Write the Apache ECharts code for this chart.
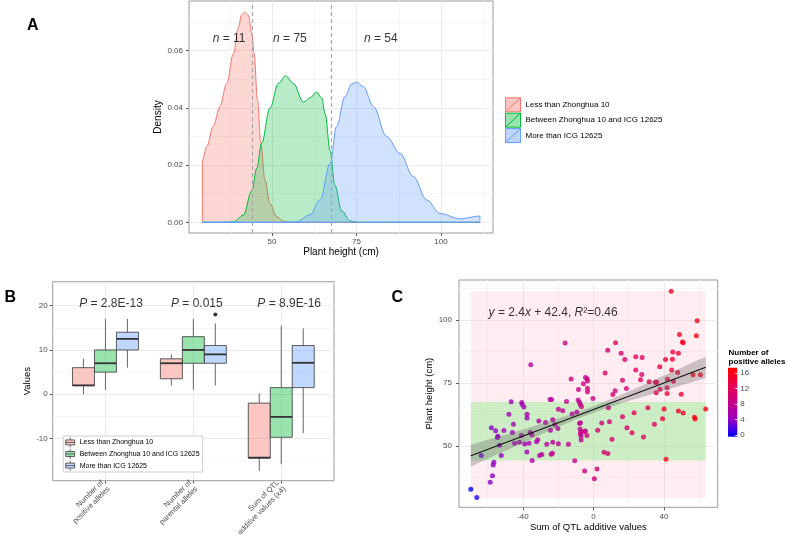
<!DOCTYPE html>
<html><head><meta charset="utf-8">
<script src="https://cdn.jsdelivr.net/npm/echarts@6/dist/echarts.min.js"></script>
<style>html,body{margin:0;padding:0;background:#fff}#c{width:787px;height:540px}</style>
</head><body><div id="c"></div>
<script>
// ================= DATA =================
const groupNames = ['Less than Zhonghua 10', 'Between Zhonghua 10 and ICG 12625', 'More than ICG 12625'];
const groupColors = ['#F8766D', '#00BA38', '#619CFF'];
const thresholds = [44.3, 67.5];          // Zhonghua 10 / ICG 12625 plant heights
const heightRange = [29.4, 111.5];

// Panel A : density of plant height
const densityLess = [[29.4,0],[29.4,0.0218],[30.7,0.0265],[32.6,0.0335],[34.6,0.0405],[36.6,0.0486],[38.6,0.0591],[40.0,0.0679],[41.0,0.0725],[41.8,0.0735],[43.0,0.0725],[44.0,0.0661],[44.7,0.0591],[45.7,0.0428],[46.7,0.0276],[47.9,0.0148],[49.4,0.0066],[51.4,0.002],[53.4,0.0003],[56,0],[111.5,0]];
const densityBetween = [[29.4,0],[36,0],[38.6,0.0002],[41.5,0.0025],[44.0,0.011],[45.5,0.019],[46.9,0.0276],[49.4,0.040],[51.9,0.0486],[54.0,0.0512],[56.3,0.0486],[59.3,0.042],[61.2,0.0435],[63.2,0.0455],[64.7,0.0435],[65.7,0.038],[67.2,0.025],[68.6,0.013],[70.6,0.004],[73.1,0.0005],[75.0,0],[111.5,0]];
const densityMore = [[29.4,0],[54,0],[57.3,0.0002],[61.2,0.0026],[64.2,0.0078],[67.2,0.0206],[69.1,0.0335],[71.6,0.044],[73.6,0.0484],[75.0,0.049],[77.0,0.0475],[80.0,0.0405],[83.9,0.030],[87.9,0.0241],[91.8,0.016],[95.8,0.0078],[99.7,0.0031],[105.6,0.0012],[111.5,0.0022],[111.5,0]];
const groupCounts = [11, 75, 54];
const countLabelX = [37.3, 55.3, 82.2];
const countLabelY = 0.0641;
const densTicksX = [50, 75, 100], densMinorX = [37.5, 62.5, 87.5, 112.5];
const densTicksY = [0, 0.02, 0.04, 0.06], densMinorY = [0.01, 0.03, 0.05, 0.07];

// Panel B : box plots  [min, q1, median, q3, max]
const boxCategories = ['Number of\npositive alleles', 'Number of\nparental alleles', 'Sum of QTL\nadditive values (x4)'];
const boxLess    = [[0,2,2,6,8],   [2,3.5,7,8,9],  [-17.3,-14.4,-14.3,-2,0.2]];
const boxBetween = [[1,5,7,10,17], [1,7,10,13,17], [-15.8,-9.7,-5.1,1.5,15.5]];
const boxMore    = [[6,10,12.5,14,17], [2,7,9,11,16], [-8.8,1.5,7.1,11,14.9]];
const boxOutliers = [[2, 2, 18]];   // [category (1-based), group index, value]
const pValues = ['2.8E-13', '0.015', '8.9E-16'];
const pLabelX = [1.063, 2.04, 3.09], pLabelY = 20.5;
const boxTicksY = [-10, 0, 10, 20], boxMinorY = [-15, -5, 5, 15, 25];

// Panel C : scatter [sum of QTL additive values, plant height, number of positive alleles]
const pointsC = [[-69.6,32.9,0],[-66.2,29.6,1],[-63.7,46.3,3],[-58.6,35.6,4],[-57.9,57.3,4],[-56.9,42.5,4],[-56.5,43.6,4],[-57.3,38.2,4],[-55.5,56.1,4],[-54.5,53.4,5],[-54.2,53.9,4],[-53.3,50.3,5],[-52.3,46.3,4],[-50.8,56.2,5],[-48.0,62.6,5],[-46.7,67.6,5],[-46.0,55.4,5],[-45.4,58.7,5],[-44.8,51.1,5],[-42.0,51.5,6],[-40.7,67.3,5],[-40.5,66.6,5],[-39.5,65.5,5],[-40.9,54.2,6],[-39.0,50.8,5],[-37.7,62.6,6],[-37.7,61.1,5],[-37.8,47.6,5],[-36.5,51.1,6],[-35.9,55.4,6],[-35.6,82.3,7],[-34.9,54.5,7],[-34.8,44.3,6],[-32.3,51.7,6],[-31.6,52.5,7],[-31.0,59.9,6],[-30.6,46.3,7],[-29.3,46.7,7],[-27.2,59.4,7],[-26.5,50.7,7],[-24.6,68.5,7],[-23.8,68.5,7],[-24.4,56.3,7],[-24.0,46.8,8],[-23.3,47.1,8],[-23.1,60.4,7],[-23.1,51.5,7],[-21.9,58.6,7],[-19.9,64.6,8],[-17.4,64.0,8],[-20.2,57.0,7],[-19.9,50.9,8],[-16.1,90.9,9],[-15.3,67.7,8],[-14.2,50.7,8],[-12.7,76.6,9],[-12.1,62.7,7],[-10.6,44.2,8],[-9.5,63.5,7],[-8.7,68.3,8],[-8.5,72.4,8],[-7.9,67.3,8],[-7.4,66.5,8],[-6.8,65.6,9],[-7.9,59.0,8],[-7.4,59.3,8],[-7.6,56.8,8],[-7.2,55.6,8],[-7.4,54.8,9],[-7.0,54.0,8],[-7.0,52.4,8],[-5.7,74.7,9],[-5.3,55.8,9],[-4.5,56.0,9],[-5.0,40.1,9],[-4.5,77.2,9],[-3.6,76.7,9],[-3.4,75.8,9],[-3.4,72.9,9],[-3.4,71.6,9],[-3.7,54.2,9],[-0.3,68.9,9],[0.5,37.0,10],[2.0,40.9,10],[2.4,56.3,10],[4.7,59.2,10],[6.0,47.5,10],[6.6,79.0,11],[8.1,88.0,10],[8.2,47.0,10],[8.5,65.2,9],[9.1,59.6,10],[10.5,52.7,10],[11.0,70.5,10],[12.3,72.0,10],[12.5,91.0,11],[15.7,86.8,11],[16.5,76.1,11],[16.5,61.6,11],[17.8,84.4,11],[18.7,72.8,10],[19.0,57.3,11],[23.1,63.2,12],[21.9,55.3,12],[24.0,85.4,12],[24.0,80.2,12],[26.7,76.3,12],[27.4,78.4,11],[27.6,85.1,12],[28.4,53.6,12],[30.9,65.2,12],[31.6,75.5,13],[34.6,58.7,12],[35.2,75.3,13],[35.6,71.2,13],[35.9,75.3,13],[37.6,81.5,14],[37.8,72.5,13],[39.2,60.8,14],[40.1,64.7,15],[40.9,84.4,14],[41.2,44.8,15],[41.8,70.9,14],[41.8,73.1,13],[42.0,76.5,14],[44.1,111.4,15],[44.4,80.2,14],[44.8,84.5,14],[45.0,87.3,14],[45.4,75.7,13],[47.8,79.2,14],[48.2,86.8,14],[48.2,63.9,15],[48.8,94.3,15],[49.8,70.6,14],[50.5,91.3,15],[50.9,91.0,15],[50.9,63.1,15],[56.5,78.3,16],[57.3,61.4,16],[57.7,60.7,16],[58.4,93.8,16],[58.8,99.7,16],[60.7,78.3,15],[63.7,64.7,17]];
const qtlRange = [-69.6, 63.7];
const fitX = [-69.6, 63.7], fitY = [46.2, 81.25];
const bandX     = [-69.6, -60, -50, -40, -30, -20, -10, 0, 10, 20, 30, 40, 50, 60, 63.7];
const bandLower = [41.9, 44.97, 48.17, 51.36, 54.5, 57.57, 60.5, 63.19, 65.6, 67.84, 69.98, 72.07, 74.13, 76.18, 76.94];
const bandUpper = [50.5, 52.47, 54.53, 56.6, 58.72, 60.91, 63.24, 65.81, 68.66, 71.68, 74.8, 77.97, 81.17, 84.38, 85.56];
const equationPos = [-22.9, 102.8];
const scatTicksX = [-40, 0, 40], scatMinorX = [-60, -20, 20, 60];
const scatTicksY = [50, 75, 100], scatMinorY = [37.5, 62.5, 87.5, 112.5];
const alleleLimits = [0, 17];
const alleleTicks = [0, 4, 8, 12, 16];
const alleleColors = ['#0000FF', '#9A00C2', '#C90089', '#E80050', '#FF0000'];

// ================= STYLE / LAYOUT =================
const FONT = 'Liberation Sans, Arial, sans-serif';
const TICK_COL = '#4D4D4D';
const GRID_MAJ = '#EBEBEB', GRID_MIN = '#F6F6F6';
const fillAlpha = ['rgba(248,118,109,0.42)', 'rgba(0,186,56,0.40)', 'rgba(97,156,255,0.42)'];
const boxFills = ['rgba(248,118,109,0.42)', 'rgba(0,186,56,0.40)', 'rgba(97,156,255,0.40)'];
const dodge = [-0.25, 0, 0.25], boxHalf = 0.125;

function mainAxis(gridIndex, min, max, ticks, extra) {
  return Object.assign({
    type: 'value', gridIndex, min, max, scale: false,
    axisLine: { show: false, onZero: false },
    axisTick: { show: true, length: 3, customValues: ticks, lineStyle: { color: '#333', width: 0.8 } },
    axisLabel: { show: true, customValues: ticks, color: TICK_COL, fontSize: 8, fontFamily: FONT, margin: 5 },
    splitLine: { show: true, customValues: ticks, lineStyle: { color: GRID_MAJ, width: 1 } },
    nameLocation: 'middle',
    nameTextStyle: { color: '#000', fontSize: 10, fontFamily: FONT }
  }, extra || {});
}
function minorAxis(gridIndex, min, max, vals, pos) {
  return {
    type: 'value', gridIndex, min, max, position: pos,
    axisLine: { show: false, onZero: false },
    axisTick: { show: false, customValues: vals },
    axisLabel: { show: false, customValues: vals },
    splitLine: { show: true, customValues: vals, lineStyle: { color: GRID_MIN, width: 1 } }
  };
}

const gridStyle = { show: true, borderColor: '#9a9a9a', borderWidth: 1, backgroundColor: '#fff' };
const grids = [
  Object.assign({ left: 189, top: 1, width: 304, height: 232 }, gridStyle),
  Object.assign({ left: 52.7, top: 281.7, width: 281.3, height: 199 }, gridStyle),
  Object.assign({ left: 459, top: 280, width: 258.7, height: 227.3 }, gridStyle),
  { left: 728, top: 367.7, width: 9.3, height: 69, show: false }
];

const xAxes = [
  mainAxis(0, 25.44, 115.38, densTicksX, { name: 'Plant height (cm)', nameGap: 12 }),
  minorAxis(0, 25.44, 115.38, densMinorX, 'top'),
  mainAxis(1, 0.4, 3.6, [1, 2, 3], {
    axisLabel: { customValues: [1, 2, 3], rotate: 45, color: TICK_COL, fontSize: 7.5, fontFamily: FONT, margin: 4, lineHeight: 9,
      formatter: v => boxCategories[Math.round(v) - 1] }
  }),
  mainAxis(2, -76.3, 70.5, scatTicksX, { name: 'Sum of QTL additive values', nameGap: 15, nameTextStyle: { color: '#000', fontSize: 9.5, fontFamily: FONT } }),
  minorAxis(2, -76.3, 70.5, scatMinorX, 'top'),
  { type: 'value', gridIndex: 3, min: 0, max: 1, show: false }
];
const yAxes = [
  mainAxis(0, -0.00374, 0.07738, densTicksY, { name: 'Density', nameGap: 24, axisLabel: { customValues: densTicksY, color: TICK_COL, fontSize: 8, fontFamily: FONT, margin: 6, formatter: v => v.toFixed(2) } }),
  minorAxis(0, -0.00374, 0.07738, densMinorY, 'right'),
  mainAxis(1, -19.5, 25.4, boxTicksY, { name: 'Values', nameGap: 18, nameTextStyle: { color: '#000', fontSize: 9.5, fontFamily: FONT } }),
  minorAxis(1, -19.5, 25.4, boxMinorY, 'right'),
  mainAxis(2, 25.7, 115.9, scatTicksY, { name: 'Plant height (cm)', nameGap: 22, nameTextStyle: { color: '#000', fontSize: 9.5, fontFamily: FONT }, axisLabel: { customValues: scatTicksY, color: TICK_COL, fontSize: 8, fontFamily: FONT, margin: 7 } }),
  minorAxis(2, 25.7, 115.9, scatMinorY, 'right'),
  {
    type: 'value', gridIndex: 3, min: -0.44, max: 17.45, position: 'right',
    axisLine: { show: false, onZero: false }, splitLine: { show: false },
    axisTick: { show: true, inside: true, length: 2, customValues: alleleTicks, lineStyle: { color: '#fff', width: 1 } },
    axisLabel: { show: true, customValues: alleleTicks, color: TICK_COL, fontSize: 8, fontFamily: FONT, margin: 3 },
    z: 10
  }
];

const series = [];
// ---- Panel A
const densities = [densityLess, densityBetween, densityMore];
densities.forEach((d, i) => {
  series.push({
    type: 'line', name: groupNames[i], xAxisIndex: 0, yAxisIndex: 0, data: d,
    smooth: 0.35, smoothMonotone: 'x', symbol: 'none', silent: true,
    lineStyle: { color: groupColors[i], width: 1 },
    itemStyle: { color: groupColors[i] },
    areaStyle: { color: fillAlpha[i], origin: 'auto' }, z: 2 + i
  });
});
// common baseline of the density polygons
series.push({
  type: 'line', xAxisIndex: 0, yAxisIndex: 0, symbol: 'none', silent: true, z: 6,
  data: [[densityMore[0][0], 0], [densityMore[densityMore.length - 1][0], 0]],
  lineStyle: { color: groupColors[2], width: 1 }
});
// threshold lines
series.push({
  type: 'line', xAxisIndex: 0, yAxisIndex: 0, data: [], silent: true, z: 7,
  markLine: { symbol: ['none', 'none'], silent: true, label: { show: false },
    lineStyle: { color: '#a8a8a8', type: [4, 3], width: 1.2 },
    data: thresholds.map(v => ({ xAxis: v })) }
});
// n = labels
series.push({
  type: 'scatter', xAxisIndex: 0, yAxisIndex: 0, symbolSize: 0, silent: true, z: 8,
  data: groupCounts.map((n, i) => [countLabelX[i], countLabelY, n]),
  label: { show: true, position: 'inside', fontFamily: FONT, fontSize: 12, color: '#000',
    formatter: p => '{i|n} = ' + p.value[2], rich: { i: { fontStyle: 'italic', fontSize: 12, fontFamily: FONT } } }
});

// ---- Panel B
[boxLess, boxBetween, boxMore].forEach((stats, gi) => {
  series.push({
    type: 'custom', name: groupNames[gi], xAxisIndex: 2, yAxisIndex: 2, z: 3,
    dimensions: ['x', 'min', 'q1', 'med', 'q3', 'max'],
    encode: { x: 0, y: [1, 2, 3, 4, 5] },
    itemStyle: { color: boxFills[gi] },
    data: stats.map((s, ci) => [ci + 1 + dodge[gi]].concat(s)),
    renderItem(params, api) {
      const x = api.value(0);
      const c = v => api.coord([x, v]);
      const L = v => api.coord([x - boxHalf, v]), R = v => api.coord([x + boxHalf, v]);
      const pMin = c(api.value(1)), pQ1 = c(api.value(2)), pQ3 = c(api.value(4)), pMax = c(api.value(5));
      const q1L = L(api.value(2)), q3R = R(api.value(4));
      const mL = L(api.value(3)), mR = R(api.value(3));
      return { type: 'group', children: [
        { type: 'line', shape: { x1: pMin[0], y1: pMin[1], x2: pQ1[0], y2: pQ1[1] }, style: { stroke: '#555', lineWidth: 0.9 } },
        { type: 'line', shape: { x1: pQ3[0], y1: pQ3[1], x2: pMax[0], y2: pMax[1] }, style: { stroke: '#555', lineWidth: 0.9 } },
        { type: 'rect', shape: { x: q1L[0], y: q3R[1], width: q3R[0] - q1L[0], height: q1L[1] - q3R[1] }, style: { fill: boxFills[gi], stroke: '#4a4a4a', lineWidth: 0.9 } },
        { type: 'line', shape: { x1: mL[0], y1: mL[1], x2: mR[0], y2: mR[1] }, style: { stroke: '#333', lineWidth: 1.8 } }
      ] };
    }
  });
});
series.push({
  type: 'scatter', xAxisIndex: 2, yAxisIndex: 2, symbolSize: 4, silent: true, z: 4,
  itemStyle: { color: '#000' },
  data: boxOutliers.map(o => [o[0] + dodge[o[1]], o[2]])
});
series.push({
  type: 'scatter', xAxisIndex: 2, yAxisIndex: 2, symbolSize: 0, silent: true, z: 5,
  data: pValues.map((p, i) => [pLabelX[i], pLabelY, p]),
  label: { show: true, position: 'inside', fontFamily: FONT, fontSize: 12, color: '#000',
    formatter: p => '{i|P} = ' + p.value[2], rich: { i: { fontStyle: 'italic', fontSize: 12, fontFamily: FONT } } }
});

// ---- Panel C
series.push({
  type: 'line', xAxisIndex: 3, yAxisIndex: 4, data: [], silent: true, z: 1,
  markArea: { silent: true, data: [
    [{ xAxis: qtlRange[0], yAxis: heightRange[0], itemStyle: { color: 'rgba(255,192,203,0.28)' } }, { xAxis: qtlRange[1], yAxis: heightRange[1] }],
    [{ xAxis: qtlRange[0], yAxis: thresholds[0], itemStyle: { color: 'rgba(144,238,144,0.45)' } }, { xAxis: qtlRange[1], yAxis: thresholds[1] }]
  ] }
});
const scatterIndex = series.length;
series.push({
  type: 'scatter', xAxisIndex: 3, yAxisIndex: 4, symbolSize: 5, silent: true, z: 3,
  data: pointsC
});
series.push({
  type: 'custom', xAxisIndex: 3, yAxisIndex: 4, silent: true, z: 4,
  data: bandX.map((x, i) => [x, bandLower[i], bandUpper[i]]),
  encode: { x: 0, y: [1, 2] },
  renderItem(params, api) {
    if (params.dataIndex !== 0) return null;
    const pts = [];
    for (let i = 0; i < bandX.length; i++) pts.push(api.coord([bandX[i], bandUpper[i]]));
    for (let i = bandX.length - 1; i >= 0; i--) pts.push(api.coord([bandX[i], bandLower[i]]));
    return { type: 'polygon', shape: { points: pts }, style: { fill: 'rgba(95,95,95,0.32)' } };
  }
});
series.push({
  type: 'line', xAxisIndex: 3, yAxisIndex: 4, symbol: 'none', silent: true, z: 5,
  data: fitX.map((x, i) => [x, fitY[i]]), lineStyle: { color: '#111', width: 1.1 }
});
series.push({
  type: 'scatter', xAxisIndex: 3, yAxisIndex: 4, symbolSize: 0, silent: true, z: 6,
  data: [equationPos],
  label: { show: true, position: 'inside', fontFamily: FONT, fontSize: 12, color: '#000',
    formatter: () => '{i|y} = 2.4{i|x} + 42.4, {i|R}\u00B2=0.46',
    rich: { i: { fontStyle: 'italic', fontSize: 12, fontFamily: FONT } } }
});

const chart = echarts.init(document.getElementById('c'), null, { renderer: 'canvas' });
chart.setOption({
  animation: false,
  backgroundColor: '#fff',
  textStyle: { fontFamily: FONT },
  title: [
    { text: 'A', left: 27, top: 18, padding: 0, textStyle: { fontSize: 16, fontWeight: 'bold', fontFamily: FONT, color: '#000' } },
    { text: 'B', left: 4.5, top: 290, padding: 0, textStyle: { fontSize: 16, fontWeight: 'bold', fontFamily: FONT, color: '#000' } },
    { text: 'C', left: 391.5, top: 290, padding: 0, textStyle: { fontSize: 16, fontWeight: 'bold', fontFamily: FONT, color: '#000' } },
    { text: 'Number of\npositive alleles', left: 728.5, top: 348.5, padding: 0, textStyle: { fontSize: 8, fontWeight: 'bold', fontFamily: FONT, color: '#000', lineHeight: 8.6 } }
  ],
  grid: grids,
  xAxis: xAxes,
  yAxis: yAxes,
  legend: [
    {
      orient: 'vertical', left: 505, top: 97.3, padding: 0, itemWidth: 15, itemHeight: 14, itemGap: 0.4,
      selectedMode: false, textStyle: { fontSize: 8, fontFamily: FONT, color: '#000' },
      data: groupNames.map((n, i) => ({ name: n, icon: 'path://M0,0 H15 V14 H0 Z M0,14 L15,0',
        itemStyle: { color: fillAlpha[i], borderColor: groupColors[i], borderWidth: 1 } }))
    },
    {
      orient: 'vertical', left: 63.3, top: 436, padding: [1, 3, 1, 2], itemWidth: 9, itemHeight: 10, itemGap: 0.8,
      borderColor: '#cfcfcf', borderWidth: 1, backgroundColor: '#fff',
      selectedMode: false, textStyle: { fontSize: 7, fontFamily: FONT, color: '#000' },
      data: groupNames.map((n, i) => ({ name: n, icon: 'path://M0,2.5 H9 V7.5 H0 Z M0,5 H9 M4.5,0 V2.5 M4.5,7.5 V10',
        itemStyle: { color: boxFills[i], borderColor: '#444', borderWidth: 0.8 } }))
    }
  ],
  visualMap: {
    type: 'continuous', show: false, seriesIndex: scatterIndex, dimension: 2,
    min: alleleLimits[0], max: alleleLimits[1], inRange: { color: alleleColors }
  },
  graphic: [{
    type: 'rect', left: 728, top: 367.7, z: -1, silent: true,
    shape: { width: 9.3, height: 69 },
    style: { fill: new echarts.graphic.LinearGradient(0, 1, 0, 0,
      alleleColors.map((c, i) => ({ offset: i / (alleleColors.length - 1), color: c }))) }
  }],
  series
});
</script></body></html>
